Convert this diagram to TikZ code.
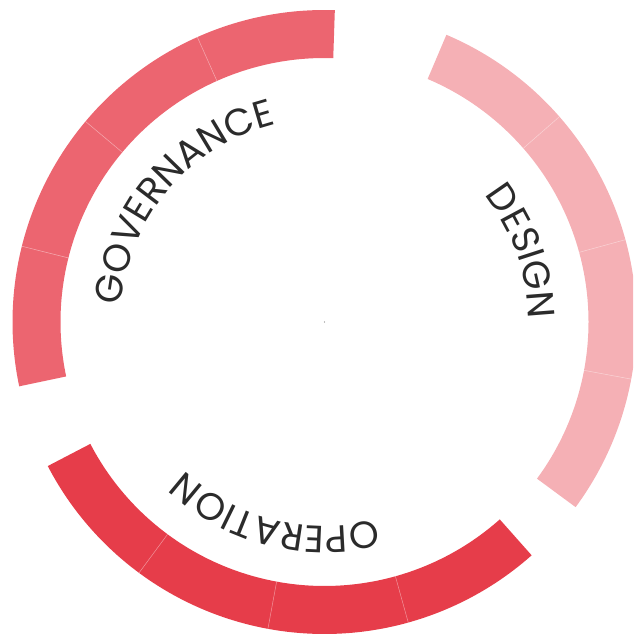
\documentclass[tikz,border=0pt]{standalone}
\usepackage{fontspec}
\setmainfont{Poppins}
\usetikzlibrary{decorations.text}
\definecolor{govcol}{HTML}{EC6570}
\definecolor{descol}{HTML}{F5B0B5}
\definecolor{opecol}{HTML}{E63D4A}
\definecolor{txtcol}{HTML}{2B2B2B}
\def\Rout{312pt}
\def\Rin{264pt}
\def\Rtxt{204pt}
\tikzset{
  seam/.style={draw=white, draw opacity=0.45, line width=0.5pt},
  ringlabel/.style={decorate, decoration={text along path, text align=center,
      text color=txtcol, text={|\fontsize{38pt}{40pt}\selectfont|#1}}}
}
\newcommand\ringarc[4]{% colour, start, end, step
  \fill[#1] (#2:\Rout) arc[start angle=#2, end angle=#3, radius=\Rout]
     -- (#3:\Rin) arc[start angle=#3, end angle=#2, radius=\Rin] -- cycle;
  \foreach \k in {1,2,3}{
    \draw[seam] ({#2+\k*#4}:\Rin) -- ({#2+\k*#4}:\Rout);
  }
}
\begin{document}
\begin{tikzpicture}
\useasboundingbox (-324.5pt,-312pt) rectangle (308.5pt,322pt);
\clip (-324.5pt,-312pt) rectangle (308.5pt,322pt);
% ring arcs
\ringarc{govcol}{88.1}{191.9}{25.95}
\ringarc{opecol}{207.5}{311.6}{26.025}
\ringarc{descol}{-36.4}{67}{25.85}
% centre dot
\fill[gray] (0,0) circle[radius=0.7pt];
% labels
\path[ringlabel={GOVERNANCE}] (199.55:\Rtxt) arc[start angle=199.55, end angle=79.55, radius=\Rtxt];
\path[ringlabel={DESIGN}] (79.6:\Rtxt) arc[start angle=79.6, end angle=-40.4, radius=\Rtxt];
\path[ringlabel={OPERATION}] (315.7:\Rtxt) arc[start angle=315.7, end angle=195.7, radius=\Rtxt];
\end{tikzpicture}
\end{document}
